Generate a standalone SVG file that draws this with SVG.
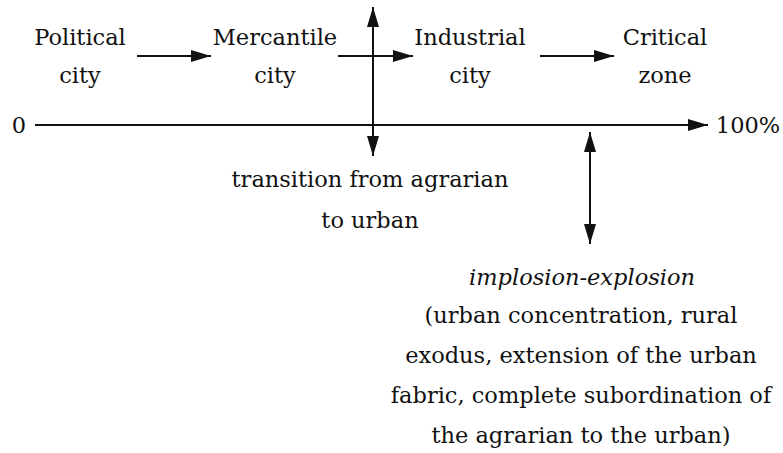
<svg xmlns="http://www.w3.org/2000/svg" width="783" height="453" viewBox="0 0 783 453">
<style>
text{font-family:"DejaVu Serif",serif;font-size:22.5px;fill:#111;text-anchor:middle}
.ln{stroke:#111;stroke-width:2;fill:none}
.it{font-style:italic}
</style>
<defs>
<marker id="ah" viewBox="0 0 20 12" refX="20" refY="6" markerWidth="20" markerHeight="12" markerUnits="userSpaceOnUse" orient="auto-start-reverse">
<path d="M0,0 L20,6 L0,12 Z" fill="#111"/>
</marker>
</defs>
<rect width="783" height="453" fill="#fff"/>
<g id="connectors">
<line class="ln" x1="137" y1="56" x2="211" y2="56" marker-end="url(#ah)"/>
<line class="ln" x1="338" y1="56" x2="413" y2="56" marker-end="url(#ah)"/>
<line class="ln" x1="540" y1="56" x2="614" y2="56" marker-end="url(#ah)"/>
<line class="ln" x1="35" y1="125" x2="708" y2="125" marker-end="url(#ah)"/>
<line class="ln" x1="373" y1="7" x2="373" y2="156" marker-start="url(#ah)" marker-end="url(#ah)"/>
<line class="ln" x1="590" y1="132" x2="590" y2="244" marker-start="url(#ah)" marker-end="url(#ah)"/>
</g>
<g id="political"><text x="80" y="45">Political</text><text x="80" y="83">city</text></g>
<g id="mercantile"><text x="275" y="45">Mercantile</text><text x="275" y="83">city</text></g>
<g id="industrial"><text x="470" y="45">Industrial</text><text x="470" y="83">city</text></g>
<g id="critical"><text x="665" y="45">Critical</text><text x="665" y="83">zone</text></g>
<g id="zero"><text x="19" y="133">0</text></g>
<g id="hundred"><text x="748" y="133">100%</text></g>
<g id="transition"><text x="370" y="187">transition from agrarian</text><text x="370" y="228">to urban</text></g>
<g id="implosion">
<text x="582" y="285" class="it">implosion-explosion</text>
<text x="581" y="323">(urban concentration, rural</text>
<text x="581" y="363">exodus, extension of the urban</text>
<text x="581" y="403">fabric, complete subordination of</text>
<text x="581" y="443">the agrarian to the urban)</text>
</g>
</svg>
